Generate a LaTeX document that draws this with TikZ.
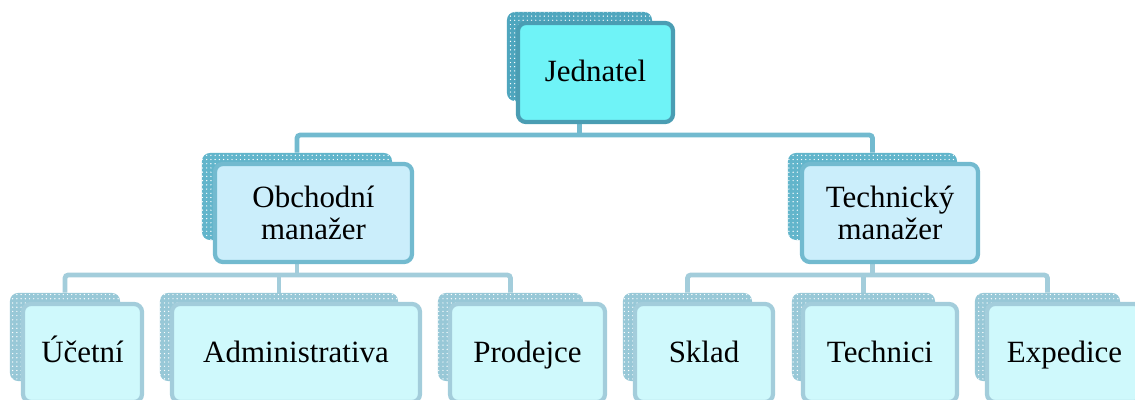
\documentclass[tikz,border=0pt]{standalone}
\usepackage{fontspec}
\setmainfont{Liberation Serif}
\usepackage{xcolor}
\usepackage{tikz}
\usetikzlibrary{positioning, backgrounds, patterns}

\definecolor{jedBack}{HTML}{4FA6BE}
\definecolor{jedFill}{HTML}{6FF3F7}
\definecolor{jedLine}{HTML}{4A9DB3}
\definecolor{midBack}{HTML}{62B5CB}
\definecolor{midFill}{HTML}{CBEEFB}
\definecolor{midLine}{HTML}{72BACF}
\definecolor{lowBack}{HTML}{98C8D7}
\definecolor{lowFill}{HTML}{CFF9FC}
\definecolor{lowLine}{HTML}{A3CDDB}

\begin{document}
\begin{tikzpicture}[
    x=0.025cm, y=-0.025cm,
    back/.style={rectangle, rounded corners=0.2cm, inner sep=0pt,
        postaction={pattern=dots, pattern color=white}},
    front/.style={rectangle, rounded corners=0.2cm, line width=3pt, inner sep=0pt,
        align=center, font=\fontsize{22}{23}\selectfont},
    oneline/.style={text height=17pt, text depth=4pt},
    topbox/.style={front, oneline, fill=jedFill, draw=jedLine, minimum width=3.875cm, minimum height=2.475cm},
    midbox/.style={front, fill=midFill, draw=midLine, minimum height=2.45cm},
    lowbox/.style={front, oneline, fill=lowFill, draw=lowLine, minimum height=2.45cm},
    toplink/.style={draw=midLine, line width=3.4pt, rounded corners=0.08cm},
    lowlink/.style={draw=lowLine, line width=3.4pt, rounded corners=0.08cm}
]
\useasboundingbox (0,0) rectangle (1135,400);

% back boxes
\node[back, fill=jedBack, minimum width=3.625cm, minimum height=2.225cm] (jedB) at (579.5,56.5) {};
\node[back, fill=midBack, minimum width=4.75cm, minimum height=2.175cm] (obchB) at (297,196.5) {};
\node[back, fill=midBack, minimum width=4.225cm, minimum height=2.175cm] (techB) at (872.5,196.5) {};
\node[back, fill=lowBack, minimum width=2.75cm, minimum height=2.2cm] (ucB) at (65,337) {};
\node[back, fill=lowBack, minimum width=5.95cm, minimum height=2.2cm] (admB) at (279,337) {};
\node[back, fill=lowBack, minimum width=3.625cm, minimum height=2.2cm] (prodB) at (510.5,337) {};
\node[back, fill=lowBack, minimum width=3.225cm, minimum height=2.2cm] (sklB) at (687.5,337) {};
\node[back, fill=lowBack, minimum width=3.575cm, minimum height=2.2cm] (technB) at (863.5,337) {};
\node[back, fill=lowBack, minimum width=3.625cm, minimum height=2.2cm] (expB) at (1047.5,337) {};

% front boxes
\node[topbox] (jed) at (595.5,72.5) {Jednatel};
\node[midbox, minimum width=4.925cm] (obch) at (313.5,213) {Obchodní\\manažer};
\node[midbox, minimum width=4.4cm] (tech) at (890,213) {Technický\\manažer};
\node[lowbox, minimum width=2.975cm] (uc) at (82.5,353) {Účetní};
\node[lowbox, minimum width=6.2cm] (adm) at (296,353) {Administrativa};
\node[lowbox, minimum width=3.875cm] (prod) at (527.5,353) {Prodejce};
\node[lowbox, minimum width=3.45cm] (skl) at (704,353) {Sklad};
\node[lowbox, minimum width=3.85cm] (techn) at (880,353) {Technici};
\node[lowbox, minimum width=3.875cm] (exp) at (1064.5,353) {Expedice};

\coordinate (bar1) at (0,135);
\coordinate (bar2) at (0,275);

% connectors
\begin{pgfonlayer}{background}
\draw[toplink] (jedB.south) -- (jedB.south |- bar1);
\draw[toplink] (obchB.north) |- (bar1 -| techB.north) -- (techB.north);
\draw[lowlink] (obchB.south) -- (obchB.south |- bar2);
\draw[lowlink] (ucB.north) |- (bar2 -| prodB.north) -- (prodB.north);
\draw[lowlink] (admB.north) -- (admB.north |- bar2);
\draw[lowlink] (techB.south) -- (techB.south |- bar2);
\draw[lowlink] (sklB.north) |- (bar2 -| expB.north) -- (expB.north);
\draw[lowlink] (technB.north) -- (technB.north |- bar2);
\end{pgfonlayer}
\end{tikzpicture}
\end{document}
